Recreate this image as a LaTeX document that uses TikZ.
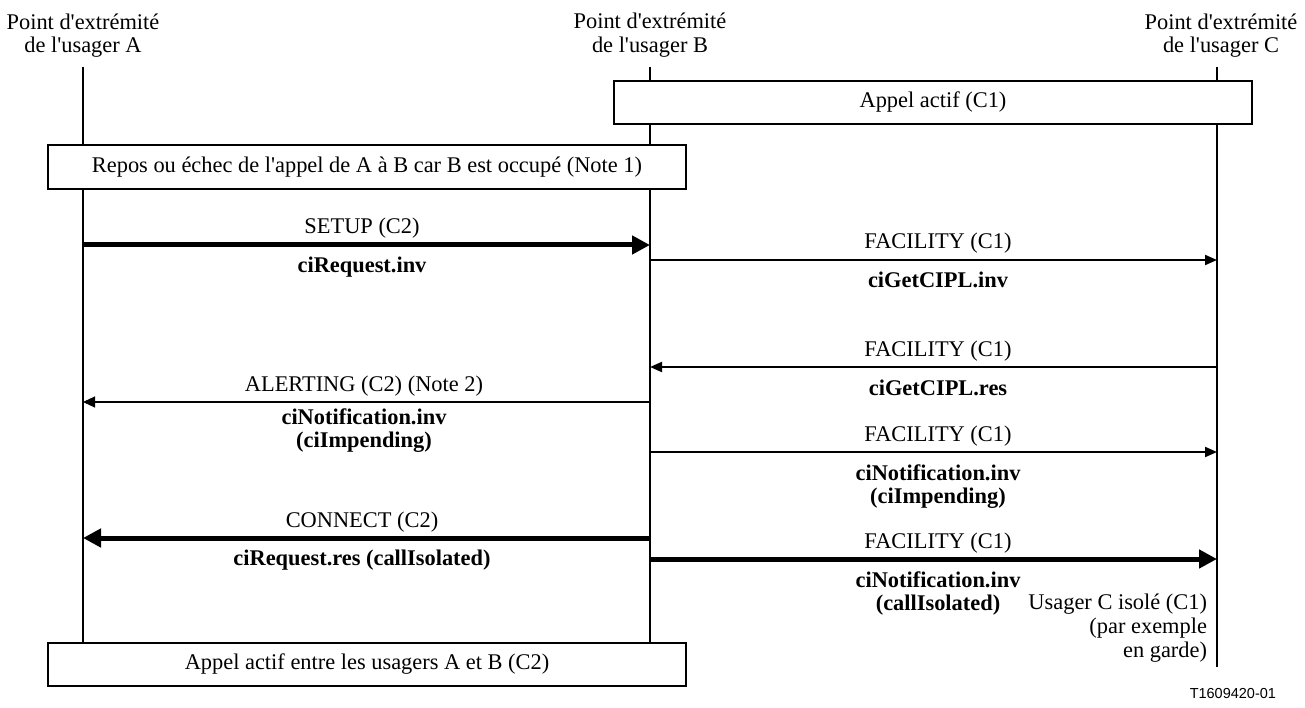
\documentclass[tikz,border=0pt]{standalone}
\usepackage{fontspec}
\setmainfont{Liberation Serif}[Ligatures=TeXOff]
\newfontfamily\figsans{Liberation Sans}
\usetikzlibrary{arrows.meta}
\begin{document}
\begin{tikzpicture}[x=1pt,y=-1pt,
  every node/.style={inner sep=0pt,outer sep=0pt,font=\fontsize{22.4}{24}\selectfont},
  txt/.style={anchor=base},
  btxt/.style={anchor=base,font=\fontsize{22.4}{24}\selectfont\bfseries},
  rtxt/.style={anchor=base east},
  life/.style={line width=2pt},
  phasebox/.style={draw,line width=1.2pt,minimum width=638pt},
  msgthin/.style={line width=2pt,-{Triangle[length=12pt,width=10pt]}},
  msghair/.style={line width=1.1pt,-{Triangle[length=12pt,width=11pt]}},
  msgthick/.style={line width=5pt,-{Triangle[length=18pt,width=18pt]}},
]
\useasboundingbox (0,0) rectangle (1305,708);

% endpoint headers
\node[txt] (hA1) at (83,30) {Point d'extrémité};
\node[txt] (hA2) at (83,53) {de l'usager A};
\node[txt] (hB1) at (650,29) {Point d'extrémité};
\node[txt] (hB2) at (650,53) {de l'usager B};
\node[txt] (hC1) at (1221,30) {Point d'extrémité};
\node[txt] (hC2) at (1221,53) {de l'usager C};

% state boxes
\node[phasebox,minimum height=43pt] (actC) at (933,102.5) {Appel actif (C1)};
\node[phasebox,minimum height=44pt] (idle) at (367,167) {Repos ou échec de l'appel de A à B car B est occupé (Note 1)};
\node[phasebox,minimum height=43pt] (actAB) at (367,664.5) {Appel actif entre les usagers A et B (C2)};

% lifelines
\coordinate (At) at (83,67);
\coordinate (Bt) at (650,67);
\coordinate (Ct) at (1217,67);
\coordinate (Cend) at (1217,667);
\draw[life] (At) -- (At |- idle.north);
\draw[life] (At |- idle.south) -- (At |- actAB.north);
\draw[life] (Bt) -- (Bt |- actC.north);
\draw[life] (Bt |- actC.south) -- (Bt |- idle.north);
\draw[life] (Bt |- idle.south) -- (Bt |- actAB.north);
\draw[life] (Ct) -- (Ct |- actC.north);
\draw[life] (Ct |- actC.south) -- (Cend);

% message end points
\coordinate (a1) at (83,245);   \coordinate (b1) at (650,245);
\coordinate (b2) at (650,260);  \coordinate (c2) at (1217,260);
\coordinate (c3) at (1217,367); \coordinate (b3) at (650,367);
\coordinate (b4) at (650,402);  \coordinate (a4) at (83,402);
\coordinate (b5) at (650,452);  \coordinate (c5) at (1217,452);
\coordinate (b6) at (650,538);  \coordinate (a6) at (83,538);
\coordinate (b7) at (650,559);  \coordinate (c7) at (1217,559);

% messages
\draw[msgthick] (a1) -- (b1);
\draw[msgthin]  (b2) -- (c2);
\draw[msgthin]  (c3) -- (b3);
\draw[msghair]  (b4) -- (a4);
\draw[msgthin]  (b5) -- (c5);
\draw[msgthick] (b6) -- (a6);
\draw[msgthick] (b7) -- (c7);

% message labels
\node[txt]  (t1) at (362,234) {SETUP (C2)};
\node[btxt] (s1) at (362,273) {ciRequest.inv};
\node[txt]  (t2) at (938,249) {FACILITY (C1)};
\node[btxt] (s2) at (938,288) {ciGetCIPL.inv};
\node[txt]  (t3) at (938,356) {FACILITY (C1)};
\node[btxt] (s3) at (938,395) {ciGetCIPL.res};
\node[txt]  (t4) at (364,391) {ALERTING (C2) (Note 2)};
\node[btxt] (s4) at (364,424) {ciNotification.inv};
\node[btxt] (u4) at (364,447) {(ciImpending)};
\node[txt]  (t5) at (938,441) {FACILITY (C1)};
\node[btxt] (s5) at (938,480) {ciNotification.inv};
\node[btxt] (u5) at (938,503) {(ciImpending)};
\node[txt]  (t6) at (362,527) {CONNECT (C2)};
\node[btxt] (s6) at (362,565) {ciRequest.res (callIsolated)};
\node[txt]  (t7) at (938,548) {FACILITY (C1)};
\node[btxt] (s7) at (938,587) {ciNotification.inv};
\node[btxt] (u7) at (938,610) {(callIsolated)};

% state of user C
\node[rtxt] (iso1) at (1207,609) {Usager C isolé (C1)};
\node[rtxt] (iso2) at (1207,633) {(par exemple};
\node[rtxt] (iso3) at (1207,657) {en garde)};

% figure reference
\node[anchor=base east,font=\figsans\fontsize{14.5}{16}\selectfont] (ref) at (1276,698) {T1609420-01};
\end{tikzpicture}
\end{document}
